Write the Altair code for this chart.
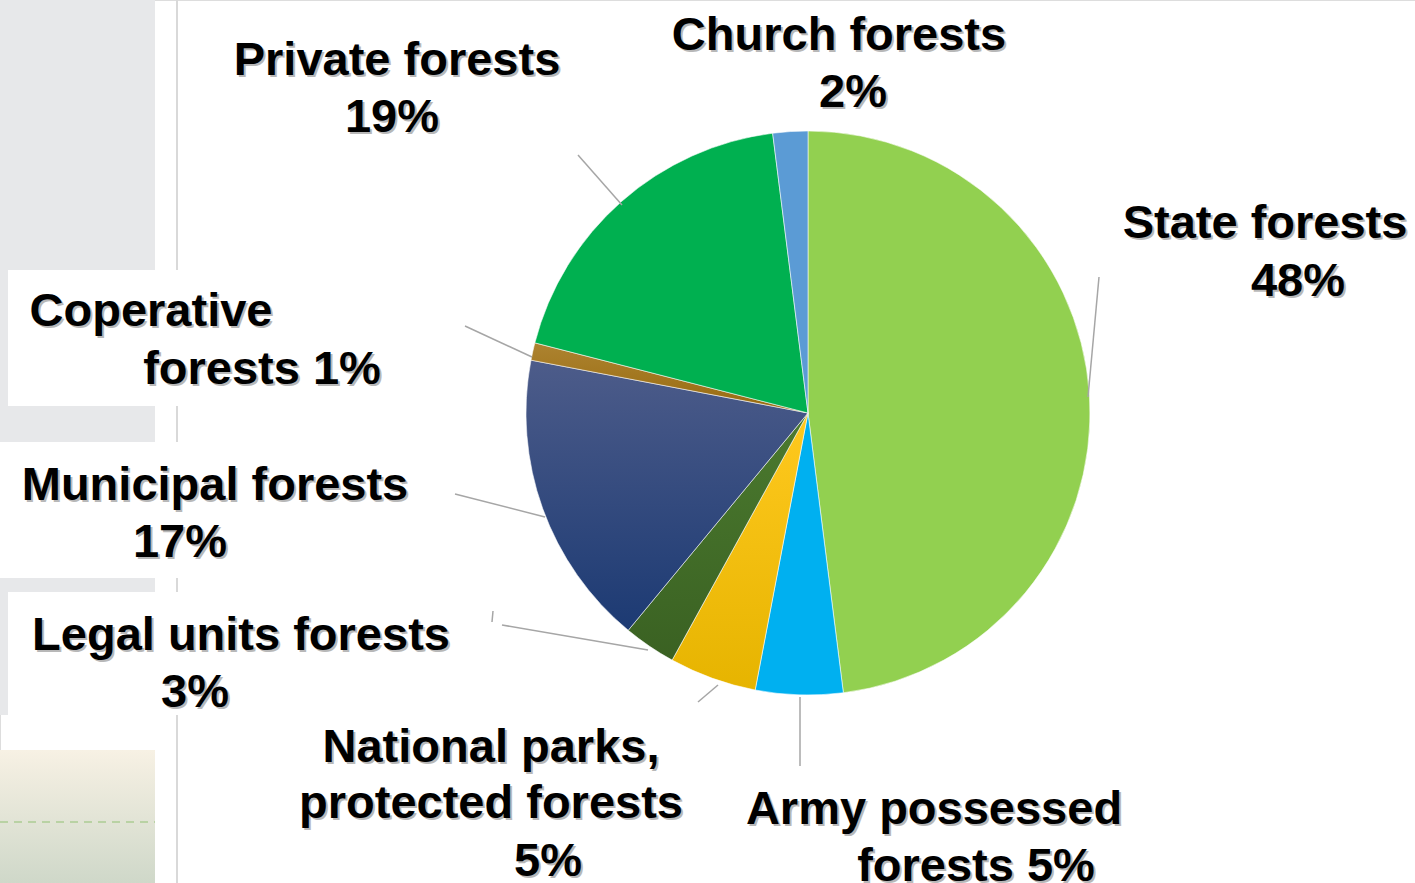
import altair as alt
import pandas as pd

# ---------------- data ----------------
categories = ["State forests", "Army possessed forests", "National parks, protected forests",
              "Legal units forests", "Municipal forests", "Coperative forests",
              "Private forests", "Church forests"]
shares = [48, 5, 5, 3, 17, 1, 19, 2]
label_lines = [
    ["State forests", "{v}%"],
    ["Army possessed", "forests {v}%"],
    ["National parks,", "protected forests", "{v}%"],
    ["Legal units forests", "{v}%"],
    ["Municipal forests", "{v}%"],
    ["Coperative", "forests {v}%"],
    ["Private forests", "{v}%"],
    ["Church forests", "{v}%"],
]

# ---------------- styles / layout ----------------
W, H = 1415, 883
CX, CY, R = 808, 413, 282
FONT = "Liberation Sans"
FS = 47


def grad(c1, c2):
    return alt.LinearGradient(gradient="linear", x1=0, y1=0, x2=0, y2=1,
                              stops=[alt.GradientStop(color=c1, offset=0),
                                     alt.GradientStop(color=c2, offset=1)])


fills = {
    "State forests": "#92D050",
    "Army possessed forests": "#00B0F0",
    "National parks, protected forests": grad("#FFC91F", "#E6B400"),
    "Legal units forests": grad("#4B7A2F", "#3A6122"),
    "Municipal forests": grad("#4D5C8A", "#1C3A73"),
    "Coperative forests": grad("#AD8330", "#976A0E"),
    "Private forests": "#00B050",
    "Church forests": "#5B9BD5",
}

# label line anchors (center x, baseline y) per category
label_pos = {
    "State forests": [(1265, 238), (1298, 296)],
    "Army possessed forests": [(934, 824), (976, 881)],
    "National parks, protected forests": [(491, 762), (491, 818), (548, 876)],
    "Legal units forests": [(241, 650), (195, 707)],
    "Municipal forests": [(215, 500), (180, 557)],
    "Coperative forests": [(151, 326), (262, 384)],
    "Private forests": [(397, 75), (392, 132)],
    "Church forests": [(839, 50), (853, 107)],
}

leaders = [  # x, y, x2, y2
    (1088, 397, 1099, 277),
    (622, 205, 578, 155),
    (532, 357, 465, 326),
    (545, 517, 455, 494),
    (648, 650, 502, 625),
    (493, 611, 492, 622),
    (718, 685, 698, 702),
    (800, 697, 800, 766),
]

decor_rects = [  # x, x2, y, y2, color
    (0, 155, 0, 442, "#E7E8EA"),
    (0, 155, 578, 715, "#E7E8EA"),
    (8, 445, 270, 406, "#FFFFFF"),
    (0, 470, 442, 578, "#FFFFFF"),
    (8, 470, 592, 715, "#FFFFFF"),
]

# ---------------- tables ----------------
pie_df = pd.DataFrame({"name": categories, "value": shares, "order": list(range(len(shares)))})

rows = []
for name, v, lines in zip(categories, shares, label_lines):
    for line, (x, y) in zip(lines, label_pos[name]):
        rows.append({"text": line.format(v=v), "x": x, "y": y})
text_df = pd.DataFrame(rows)

lead_df = pd.DataFrame(leaders, columns=["x", "y", "x2", "y2"])
rect_df = pd.DataFrame(decor_rects, columns=["x", "x2", "y", "y2", "color"])
one = pd.DataFrame({"k": [0]})

# ---------------- layers ----------------
vline = alt.Chart(one).mark_rule(color="#D9D9D9", strokeWidth=2).encode(
    x=alt.value(177), y=alt.value(0), y2=alt.value(H))

rects = alt.Chart(rect_df).mark_rect().encode(
    x=alt.X("x:Q", scale=None), x2="x2:Q",
    y=alt.Y("y:Q", scale=None), y2="y2:Q",
    fill=alt.Fill("color:N", scale=None))

landscape = alt.Chart(one).mark_rect(fill=grad("#F7F1E4", "#CFD8C9")).encode(
    x=alt.value(0), x2=alt.value(155), y=alt.value(750), y2=alt.value(H))
dash = alt.Chart(one).mark_rule(color="#B9D2A4", strokeWidth=2, strokeDash=[8, 6]).encode(
    x=alt.value(0), x2=alt.value(155), y=alt.value(822))

theta_scale = alt.Scale(domain=[0, 100], range=[0, 6.283185307179586])
base = alt.Chart(pie_df).transform_window(
    cum="sum(value)", sort=[alt.SortField("order")], frame=[None, 0]
).transform_calculate(start="datum.cum - datum.value")

slices = []
for name in categories:
    slices.append(
        base.transform_filter(alt.datum.name == name).mark_arc(
            radius=R, fill=fills[name], stroke="#FFFFFF", strokeWidth=0.8, strokeOpacity=0.7
        ).encode(
            theta=alt.Theta("start:Q", scale=theta_scale),
            theta2="cum:Q",
            x=alt.value(CX), y=alt.value(CY),
        )
    )

lead = alt.Chart(lead_df).mark_rule(color="#A6A6A6", strokeWidth=1.5).encode(
    x=alt.X("x:Q", scale=None), y=alt.Y("y:Q", scale=None), x2="x2:Q", y2="y2:Q")

shadow = alt.Chart(text_df).mark_text(
    font=FONT, fontSize=FS, fontWeight="bold", baseline="alphabetic", align="center",
    color="#7F7F7F", opacity=0.55, dx=2, dy=2
).encode(x=alt.X("x:Q", scale=None), y=alt.Y("y:Q", scale=None), text="text:N")

labels = alt.Chart(text_df).mark_text(
    font=FONT, fontSize=FS, fontWeight="bold", baseline="alphabetic", align="center",
    color="#000000"
).encode(x=alt.X("x:Q", scale=None), y=alt.Y("y:Q", scale=None), text="text:N")

chart = alt.layer(vline, rects, landscape, dash, *slices, lead, shadow, labels).properties(
    width=W, height=H, padding=0, autosize=alt.AutoSizeParams(type="none")
).configure_view(stroke=None).configure(background="#FFFFFF")

chart.save("out.html", embed_options={"renderer": "svg", "actions": False})
